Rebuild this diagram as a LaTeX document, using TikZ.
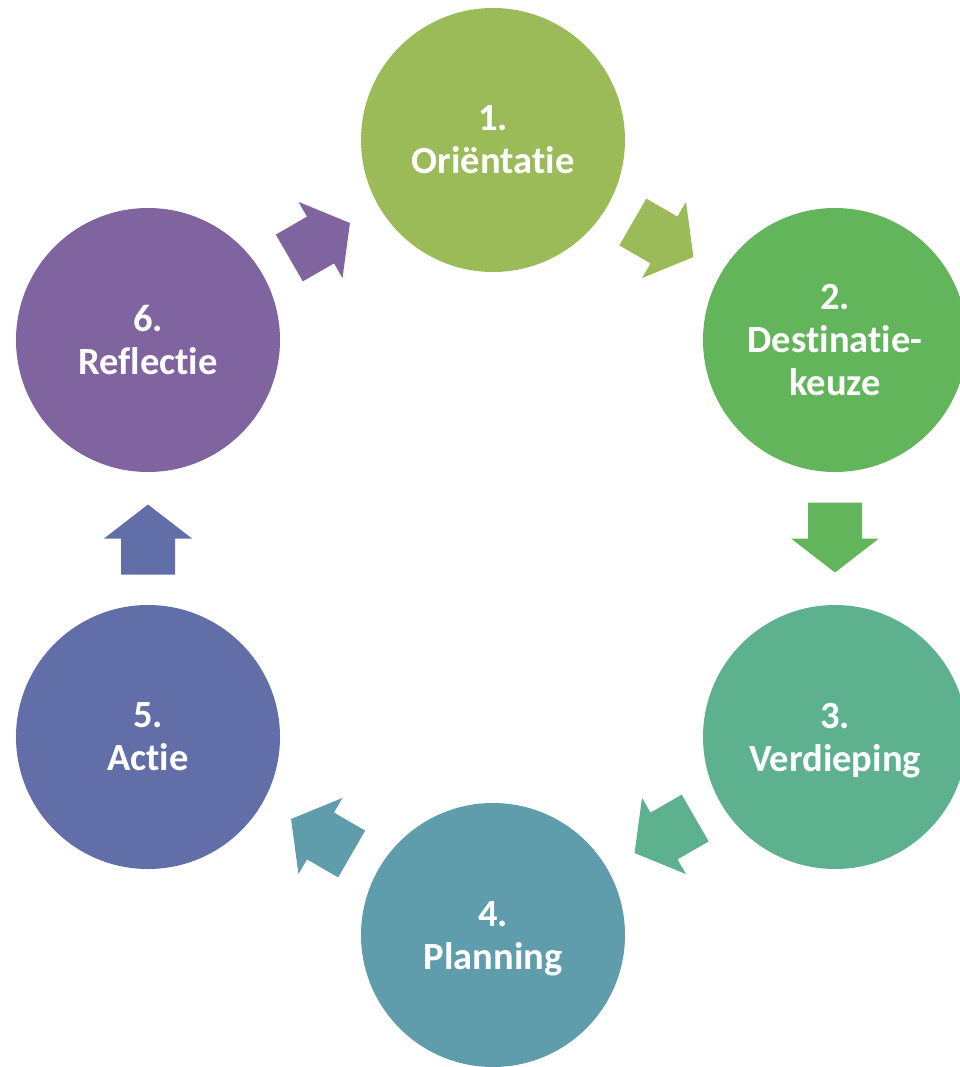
\documentclass[tikz,border=0pt]{standalone}
\usepackage{fontspec}
\setmainfont{Carlito}[Ligatures={NoCommon,NoContextual}]
\usetikzlibrary{calc}
\definecolor{colA}{RGB}{155,187,89}
\definecolor{colB}{RGB}{98,181,91}
\definecolor{colC}{RGB}{94,177,143}
\definecolor{colD}{RGB}{96,157,172}
\definecolor{colE}{RGB}{98,110,167}
\definecolor{colF}{RGB}{128,100,160}
\tikzset{
  stepcircle/.style={circle, minimum size=264pt, inner sep=0pt, text=white,
    font=\bfseries\fontsize{38.5}{43}\selectfont, align=center, text depth=0pt}
}
\begin{document}
\begin{tikzpicture}[x=1pt,y=-1pt]
\useasboundingbox (0,0) rectangle (959,1067);
\node[stepcircle, fill=colA] (c1) at (493,140) {1.\\Oriëntatie};
\node[stepcircle, fill=colB] (c2) at (835,340) {2.\\Destinatie-\\keuze};
\node[stepcircle, fill=colC] (c3) at (835,737) {3.\\Verdieping};
\node[stepcircle, fill=colD] (c4) at (493,935) {4.\\Planning};
\node[stepcircle, fill=colE] (c5) at (148,737) {5.\\Actie};
\node[stepcircle, fill=colF] (c6) at (148,340) {6.\\Reflectie};
\begin{scope}[shift={($(c1)!0.5!(c2)$)}, rotate=-30]
  \fill[colA] (-36,27)--(0,27)--(0,44)--(34,0)--(0,-44)--(0,-27)--(-36,-27)--cycle;
\end{scope}
\begin{scope}[shift={($(c2)!0.5!(c3)$)}, rotate=-90]
  \fill[colB] (-36,27)--(0,27)--(0,44)--(34,0)--(0,-44)--(0,-27)--(-36,-27)--cycle;
\end{scope}
\begin{scope}[shift={($(c3)!0.5!(c4)$)}, rotate=-150]
  \fill[colC] (-36,27)--(0,27)--(0,44)--(34,0)--(0,-44)--(0,-27)--(-36,-27)--cycle;
\end{scope}
\begin{scope}[shift={($(c4)!0.5!(c5)$)}, rotate=150]
  \fill[colD] (-36,27)--(0,27)--(0,44)--(34,0)--(0,-44)--(0,-27)--(-36,-27)--cycle;
\end{scope}
\begin{scope}[shift={($(c5)!0.5!(c6)$)}, rotate=90]
  \fill[colE] (-36,27)--(0,27)--(0,44)--(34,0)--(0,-44)--(0,-27)--(-36,-27)--cycle;
\end{scope}
\begin{scope}[shift={($(c6)!0.5!(c1)$)}, rotate=30]
  \fill[colF] (-36,27)--(0,27)--(0,44)--(34,0)--(0,-44)--(0,-27)--(-36,-27)--cycle;
\end{scope}
\end{tikzpicture}
\end{document}
